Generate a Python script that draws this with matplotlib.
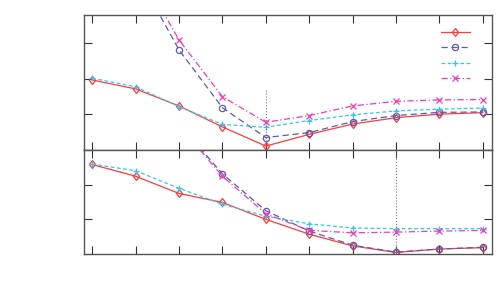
import matplotlib
matplotlib.use("Agg")
import matplotlib.pyplot as plt
from matplotlib.lines import Line2D

x = list(range(10))

top_red = [1.97, 1.72, 1.24, 0.65, 0.11, 0.44, 0.73, 0.91, 1.01, 1.05]
top_blue = [7.5, 5.03, 2.82, 1.19, 0.35, 0.49, 0.80, 0.97, 1.06, 1.07]
top_cyan = [2.02, 1.78, 1.22, 0.72, 0.64, 0.83, 0.99, 1.10, 1.15, 1.18]
top_magenta = [7.6, 5.23, 3.10, 1.50, 0.78, 0.97, 1.24, 1.37, 1.41, 1.42]

bot_red = [2.58, 2.24, 1.74, 1.48, 0.99, 0.56, 0.22, 0.03, 0.13, 0.17]
bot_blue = [6.5, 5.0, 3.76, 2.31, 1.24, 0.65, 0.24, 0.04, 0.13, 0.18]
bot_cyan = [2.59, 2.40, 1.89, 1.43, 1.08, 0.86, 0.74, 0.72, 0.72, 0.72]
bot_magenta = [6.5, 5.0, 3.72, 2.24, 1.15, 0.67, 0.60, 0.62, 0.65, 0.67]

top_vline_x = 4
top_vline_y = [0, 1.72]
bot_vline_x = 7

c_red = '#ff3b3b'
c_blue = '#5a5ab0'
c_cyan = '#33c8f0'
c_mag = '#f03cb4'

styles = [
    dict(color=c_red, ls='-', marker='d'),
    dict(color=c_blue, ls=(0, (5, 3)), marker='o'),
    dict(color=c_cyan, ls=(0, (3, 2)), marker='+'),
    dict(color=c_mag, ls=(0, (5, 2, 1, 2)), marker='x'),
]

fig = plt.figure(figsize=(5, 3), dpi=100)
ax1 = fig.add_axes([0.167, 0.5, 0.816, 0.45])
ax2 = fig.add_axes([0.167, 0.155, 0.816, 0.345])

def draw(ax, series, ylim):
    for ys, st in zip(series, styles):
        ax.plot(x, ys, color=st['color'], ls=st['ls'], marker=st['marker'],
                markersize=4.5, markerfacecolor='none', markeredgewidth=0.9,
                lw=0.9, clip_on=True)
    ax.set_xlim(-0.2, 9.2)
    ax.set_ylim(*ylim)
    ax.set_xticks(x)
    ax.set_yticks([0, 1, 2, 3])
    ax.tick_params(direction='in', length=6, top=True, right=True,
                   labelbottom=False, labelleft=False, color='#333333', width=0.8)
    for s in ax.spines.values():
        s.set_color('#555555')
        s.set_linewidth(1.0)

draw(ax1, [top_red, top_blue, top_cyan, top_magenta], (0, 3.8))
draw(ax2, [bot_red, bot_blue, bot_cyan, bot_magenta], (0, 2.96))

ax1.plot([top_vline_x, top_vline_x], top_vline_y, color='#777777', ls=':', lw=0.8)
ax2.axvline(bot_vline_x, color='#777777', ls=':', lw=0.8)

handles = [Line2D([], [], color=st['color'], ls=st['ls'], marker=st['marker'],
                  markersize=4.5, markerfacecolor='none', markeredgewidth=0.9, lw=0.9)
           for st in styles]
ax1.legend(handles, ['', '', '', ''], loc='upper right', frameon=False,
           handlelength=2.6, handletextpad=0.0, labelspacing=0.5,
           fontsize=8, borderaxespad=0.3, bbox_to_anchor=(0.966, 0.965))

fig.savefig('out.png', dpi=100)
